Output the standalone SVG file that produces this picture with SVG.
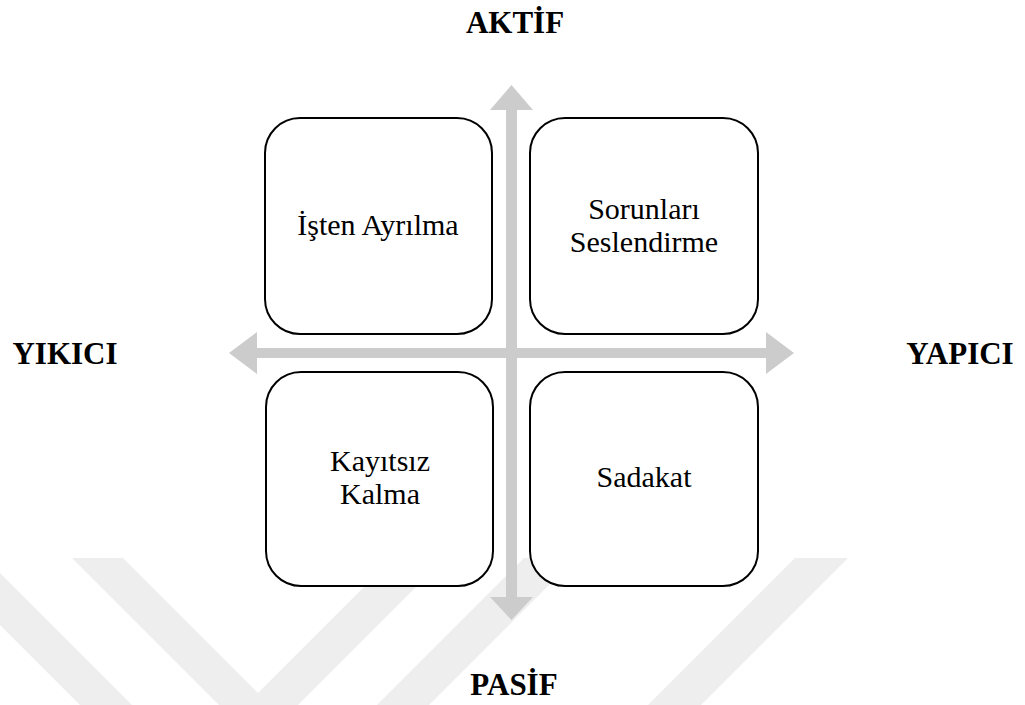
<svg xmlns="http://www.w3.org/2000/svg" width="1025" height="705" viewBox="0 0 1025 705">
<style>
.wm{fill:#eeeeee}
.axis{fill:#cccccc}
.box{fill:#ffffff;stroke:#000000;stroke-width:2}
.t{font-family:"Liberation Serif","DejaVu Serif",serif;font-size:30px;font-weight:normal;fill:#000;text-anchor:middle}
.lbl{font-family:"Liberation Serif","DejaVu Serif",serif;font-size:31px;font-weight:bold;fill:#000;text-anchor:middle}
</style>
<rect width="1025" height="705" fill="#ffffff"/>
<g id="watermark">
<polygon class="wm" points="-67,558 -15,558 132,705 80,705"/>
<polygon class="wm" points="72,558 123,558 258,693 393,558 445,558 298,705 219,705"/>
<polygon class="wm" points="524,558 576,558 429,705 377,705"/>
<polygon class="wm" points="795,558 848,558 701,705 648,705"/>
</g>
<g id="connectors">
<polygon id="axis-vertical" class="axis" points="511.5,85 533,110 517,110 517,597 533,597 511.5,620 490,597 506,597 506,110 490,110"/>
<polygon id="axis-horizontal" class="axis" points="229,353 257,332 257,348 766,348 766,332 794,353 766,374 766,358 257,358 257,374"/>
</g>
<g id="node-isten-ayrilma">
<rect class="box" x="265" y="118" width="227" height="216" rx="35" ry="35"/>
<text class="t" x="378" y="235">İşten Ayrılma</text>
</g>
<g id="node-sorunlari-seslendirme">
<rect class="box" x="530" y="118" width="228" height="216" rx="35" ry="35"/>
<text class="t" x="644" y="219">Sorunları</text>
<text class="t" x="644" y="252">Seslendirme</text>
</g>
<g id="node-kayitsiz-kalma">
<rect class="box" x="266" y="372" width="227" height="214" rx="35" ry="35"/>
<text class="t" x="380" y="471">Kayıtsız</text>
<text class="t" x="380" y="504">Kalma</text>
</g>
<g id="node-sadakat">
<rect class="box" x="530" y="372" width="228" height="214" rx="35" ry="35"/>
<text class="t" x="644" y="487">Sadakat</text>
</g>
<g id="labels">
<text class="lbl" x="515" y="33">AKTİF</text>
<text class="lbl" x="65" y="364">YIKICI</text>
<text class="lbl" x="960" y="364">YAPICI</text>
<text class="lbl" x="514" y="695">PASİF</text>
</g>
</svg>
